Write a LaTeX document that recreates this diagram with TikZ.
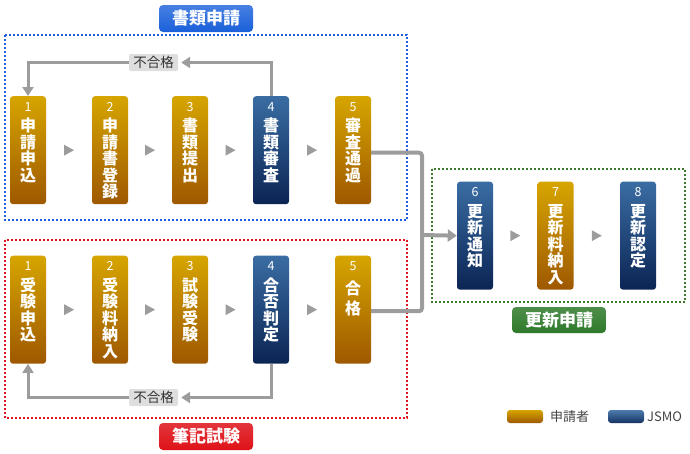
\documentclass[tikz,border=0pt]{standalone}
\usepackage{fontspec}
\setmainfont{Noto Sans CJK JP}
\usetikzlibrary{arrows.meta,calc}
\definecolor{gtop}{HTML}{D6A500}
\definecolor{gbot}{HTML}{9E5800}
\definecolor{btop}{HTML}{3A6DA3}
\definecolor{bbot}{HTML}{0B2454}
\definecolor{lgray}{HTML}{9C9C9C}
\definecolor{dblue}{HTML}{1F5FE0}
\definecolor{dred}{HTML}{E0141E}
\definecolor{dgreen}{HTML}{3C7A2C}
\definecolor{tblue}{HTML}{1A60DA}
\definecolor{tred}{HTML}{DE1218}
\definecolor{tgreen}{HTML}{2F7A2B}
\definecolor{legtext}{HTML}{444444}
\newcommand\cellt[3][16.5]{\parbox[t][108pt][t]{36pt}{\centering\vspace{6pt}{\fontsize{12.5}{12.5}\selectfont #2\par}\vspace{4pt}{\fontsize{16}{#1}\selectfont\bfseries #3\par}}}
\newcommand\tri[2]{\fill[lgray] ($(#1.east)!0.5!(#2.west)$) ++(-5,-5.5) -- ++(10,5.5) -- ++(-10,5.5) -- cycle;}
\tikzset{
  stepbox/.style={rectangle, rounded corners=3pt, minimum width=36pt, minimum height=108pt, inner sep=0pt, anchor=north, text=white},
  goldbox/.style={stepbox, top color=gtop, bottom color=gbot},
  navybox/.style={stepbox, top color=btop, bottom color=bbot},
  failbox/.style={rectangle, rounded corners=2pt, fill=black!13, minimum width=49pt, minimum height=17pt, inner sep=0pt, text=black!80, font=\fontsize{13.5}{14}\selectfont},
  titlebox/.style={rectangle, rounded corners=4pt, minimum width=94pt, minimum height=27pt, inner sep=0pt, text=white, font=\fontsize{17}{18}\selectfont\bfseries},
  groupbox/.style={line width=2pt, dash pattern=on 2pt off 2pt},
  feed/.style={lgray, line width=3pt, -{Triangle[length=9pt,width=11pt]}},
  conn/.style={lgray, line width=4pt},
  legbox/.style={rectangle, rounded corners=3pt, minimum width=36pt, minimum height=13pt, inner sep=0pt},
  legtxt/.style={anchor=west, inner sep=0pt, text=legtext, font=\fontsize{13}{13}\selectfont},
}
\begin{document}
\begin{tikzpicture}[x=1pt,y=-1pt]
\useasboundingbox (0,0) rectangle (690,453);
% group frames
\draw[groupbox, dblue] (5,35) rectangle (407,220);
\draw[groupbox, dred] (5,240) rectangle (407,418);
\draw[groupbox, dgreen] (432,169) rectangle (685,302);
% titles
\node[titlebox, top color=tblue!80!white, bottom color=tblue] (tA) at (206,18.5) {書類申請};
\node[titlebox, top color=tred!85!white, bottom color=tred] (tB) at (206,436.5) {筆記試験};
\node[titlebox, top color=tgreen!85!white, bottom color=tgreen, minimum height=26pt] (tC) at (559,320) {更新申請};
% top row
\node[goldbox] (a1) at (28,96) {\cellt{1}{申\\請\\申\\込}};
\node[goldbox] (a2) at (110,96) {\cellt{2}{申\\請\\書\\登\\録}};
\node[goldbox] (a3) at (190,96) {\cellt{3}{書\\類\\提\\出}};
\node[navybox] (a4) at (271,96) {\cellt{4}{書\\類\\審\\査}};
\node[goldbox] (a5) at (353,96) {\cellt{5}{審\\査\\通\\過}};
% bottom row
\node[goldbox] (b1) at (28,255.5) {\cellt{1}{受\\験\\申\\込}};
\node[goldbox] (b2) at (110,255.5) {\cellt{2}{受\\験\\料\\納\\入}};
\node[goldbox] (b3) at (190,255.5) {\cellt{3}{試\\験\\受\\験}};
\node[navybox] (b4) at (271,255.5) {\cellt{4}{合\\否\\判\\定}};
\node[goldbox] (b5) at (353,255.5) {\cellt[20]{5}{合\\格}};
% renewal row
\node[navybox] (c6) at (475,181.5) {\cellt{6}{更\\新\\通\\知}};
\node[goldbox] (c7) at (555.5,181.5) {\cellt{7}{更\\新\\料\\納\\入}};
\node[navybox] (c8) at (638,181.5) {\cellt{8}{更\\新\\認\\定}};
% small triangles
\tri{a1}{a2}\tri{a2}{a3}\tri{a3}{a4}\tri{a4}{a5}
\tri{b1}{b2}\tri{b2}{b3}\tri{b3}{b4}\tri{b4}{b5}
\tri{c6}{c7}\tri{c7}{c8}
% feedback loops
\node[failbox] (f1) at (153.5,62.5) {不合格};
\node[failbox] (f2) at (153.5,397.5) {不合格};
\draw[feed] (a4.north) |- ([xshift=3pt]f1.east);
\draw[feed] (f1.west) -| (a1.north);
\draw[feed] (b4.south) |- ([xshift=3pt]f2.east);
\draw[feed] (f2.west) -| (b1.south);
% connection to renewal
\coordinate (j) at (422,235);
\draw[conn, rounded corners=3pt] ([yshift=-2.5pt]a5.east) -- ($(j |- a5.east)+(0,2.5)$) -- ($(j |- b5.east)+(0,1.5)$) -- ([yshift=-1.5pt]b5.east);
\draw[conn, -{Triangle[length=9pt,width=12pt]}] (j) -- (c6.west);
% legend
\node[legbox, top color=gtop, bottom color=gbot] (lg1) at (525,416.5) {};
\node[legtxt] (lt1) at (550,416.5) {申請者};
\node[legbox, top color=btop!90!white, bottom color=bbot!80!btop] (lg2) at (626,416.5) {};
\node[legtxt] (lt2) at (647,416.5) {JSMO};
\end{tikzpicture}
\end{document}
